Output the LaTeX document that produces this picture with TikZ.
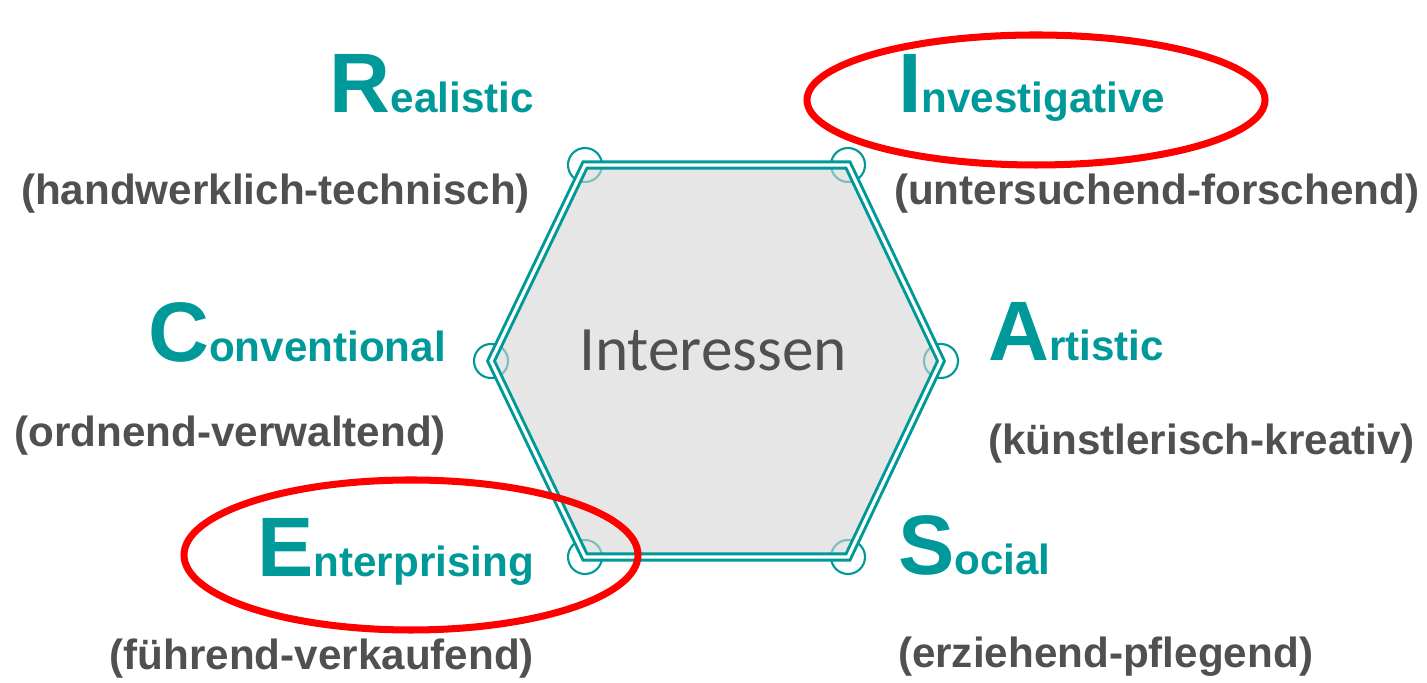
\documentclass[tikz,border=0pt]{standalone}
\usepackage{fontspec}
\setmainfont{Liberation Sans}
\newfontfamily\calfont{Carlito}
\usetikzlibrary{positioning}
\definecolor{riasecteal}{HTML}{009999}
\definecolor{labelgray}{HTML}{505050}
\definecolor{hexgray}{HTML}{D5D5D5}
\newcommand{\typename}[2]{{\fontsize{24}{24}\selectfont #1}{\fontsize{12}{12}\selectfont #2}}

\begin{document}
\begin{tikzpicture}[x=0.01cm, y=-0.01cm, semithick,
    kind/.style={inner sep=0pt, text=riasecteal, font=\bfseries},
    desc/.style={inner sep=0pt, text=labelgray, font=\bfseries\fontsize{12}{14}\selectfont},
    ring/.style={draw=riasecteal, line width=0.6pt},
    pick/.style={draw=red, line width=2pt}]
      \useasboundingbox (0,0) rectangle (1427,683);

      \coordinate (h1) at (585,165);
      \coordinate (h2) at (848,165);
      \coordinate (h3) at (941,361);
      \coordinate (h4) at (848,557);
      \coordinate (h5) at (585,557);
      \coordinate (h6) at (491,361);

      \foreach \v in {h1,h2,h3,h4,h5,h6}
        \draw[ring] (\v) circle[radius=17];
      \fill[hexgray, opacity=0.6] (h1) -- (h2) -- (h3) -- (h4) -- (h5) -- (h6) -- cycle;
      \draw[riasecteal, line width=0.85pt, double=white, double distance=0.9pt]
        (h1) -- (h2) -- (h3) -- (h4) -- (h5) -- (h6) -- cycle;

      \node[inner sep=0pt, text=labelgray, font=\calfont\fontsize{18}{18}\selectfont, anchor=base] (core) at (713,371) {Interessen};

      \node[kind, anchor=base east] (real) at (535,113) {\typename{R}{ealistic}};
      \node[desc, anchor=base east] (realdesc) at (531,205) {(handwerklich-technisch)};
      \node[kind, anchor=base west] (inv) at (897,113) {\typename{I}{nvestigative}};
      \node[desc, anchor=base west] (invdesc) at (893,205) {(untersuchend-forschend)};
      \node[kind, anchor=base east] (conv) at (447,362) {\typename{C}{onventional}};
      \node[desc, anchor=base east] (convdesc) at (447,447) {(ordnend-verwaltend)};
      \node[kind, anchor=base west] (art) at (987,361) {\typename{A}{rtistic}};
      \node[desc, anchor=base west] (artdesc) at (987,455) {(künstlerisch-kreativ)};
      \node[kind, anchor=base east] (ent) at (535,577) {\typename{E}{nterprising}};
      \node[desc, anchor=base east] (entdesc) at (535,670) {(führend-verkaufend)};
      \node[kind, anchor=base west] (soc) at (897,575) {\typename{S}{ocial}};
      \node[desc, anchor=base west] (socdesc) at (897,668) {(erziehend-pflegend)};

      \draw[pick] (1036,100) ellipse[x radius=229, y radius=65];
      \draw[pick] (411,555) ellipse[x radius=227, y radius=75];
    \end{tikzpicture}
\end{document}
